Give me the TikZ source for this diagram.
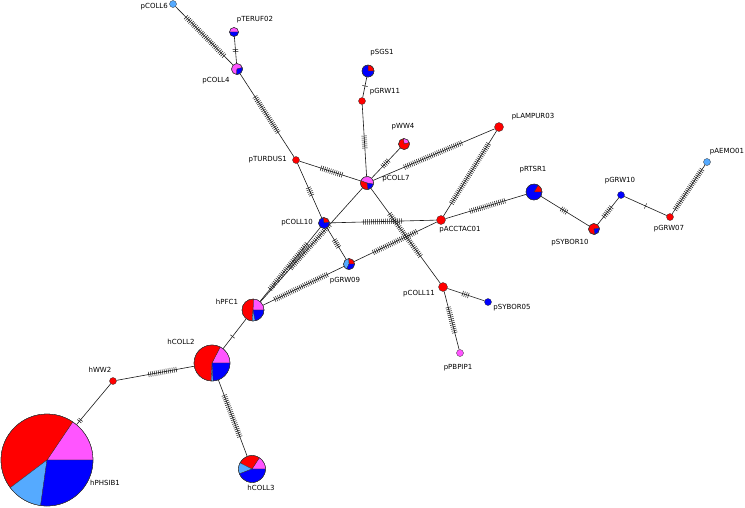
\documentclass[tikz,border=0pt]{standalone}
\usepackage{fontspec}
\setmainfont{DejaVu Sans}
\usetikzlibrary{calc}
\definecolor{hapred}{HTML}{FF0000}
\definecolor{hapblue}{HTML}{0000FF}
\definecolor{happink}{HTML}{FF55FF}
\definecolor{haplight}{HTML}{55AAFF}
\tikzset{
  hap/.style={circle, inner sep=0pt, minimum size={2*#1pt}, draw=black!80, line width=0.3pt},
  lab/.style={font=\fontsize{7}{8}\selectfont, inner sep=0pt},
  link/.style={line width=0.6pt, draw=black!90},
  tick/.style={line width=0.5pt, draw=black!90},
  wedge/.style={line width=0.3pt, draw=black!80},
}
% edge with n mutation ticks round its middle
\newcommand\hatched[3]{%
  \draw[link] (#1) -- (#2);
  \coordinate (m) at ($(#1)!.5!(#2)$);
  \foreach \k in {1,...,#3}{
    \coordinate (t) at ($(m)!{(\k-(#3+1)/2)*2pt}!(#2)$);
    \draw[tick] ($(t)!2.7pt!90:(#2)$) -- ($(t)!2.7pt!-90:(#2)$);
  }
}
% pie over a node: node, radius, start/end/colour list
\newcommand\pie[3]{%
  \foreach \a/\b/\col in {#3}
    \filldraw[wedge, fill=\col] (#1.center) -- ++(\a:#2) arc[start angle=\a, end angle=\b, radius=#2] -- cycle;
  \draw[wedge] (#1.center) circle[radius=#2];
}
\begin{document}
\begin{tikzpicture}[x=1pt, y=1pt]
  \useasboundingbox (0,0) rectangle (745,-507);
  % haplotypes
  \node[hap=3.5, fill=haplight] (pCOLL6) at (173,-4) {};
  \node[hap=4.5] (pTERUF02) at (234,-32) {};
  \node[hap=5.5] (pCOLL4) at (237,-69) {};
  \node[hap=3.5, fill=hapred] (pTURDUS1) at (296,-160) {};
  \node[hap=5.5] (pCOLL10) at (324,-223) {};
  \node[hap=6] (pSGS1) at (368,-71) {};
  \node[hap=3.5, fill=hapred] (pGRW11) at (362,-101) {};
  \node[hap=6.5] (pCOLL7) at (367,-183) {};
  \node[hap=5.5] (pWW4) at (404,-144) {};
  \node[hap=4.5, fill=hapred] (pLAMPUR03) at (499,-127) {};
  \node[hap=8] (pRTSR1) at (534,-192) {};
  \node[hap=4.5, fill=hapred] (pACCTAC01) at (441,-220) {};
  \node[hap=3.5, fill=hapblue] (pGRW10) at (621,-195) {};
  \node[hap=5.5] (pSYBOR10) at (594,-229) {};
  \node[hap=3.5, fill=hapred] (pGRW07) at (670,-217) {};
  \node[hap=3.5, fill=haplight] (pAEMO01) at (707,-162) {};
  \node[hap=5.5] (pGRW09) at (349,-264) {};
  \node[hap=11] (hPFC1) at (253,-310) {};
  \node[hap=18] (hCOLL2) at (212,-363) {};
  \node[hap=3.5, fill=hapred] (hWW2) at (113,-381) {};
  \node[hap=46] (hPHSIB1) at (47,-460) {};
  \node[hap=13.5] (hCOLL3) at (252,-469) {};
  \node[hap=4.5, fill=hapred] (pCOLL11) at (443,-287) {};
  \node[hap=3.5, fill=hapblue] (pSYBOR05) at (488,-302) {};
  \node[hap=3.5, fill=happink] (pPBPIP1) at (460,-353) {};
  % links
  \hatched{pCOLL6}{pCOLL4}{28}
  \hatched{pTERUF02}{pCOLL4}{2}
  \hatched{pCOLL4}{pTURDUS1}{22}
  \hatched{pTURDUS1}{pCOLL7}{12}
  \hatched{pTURDUS1}{pCOLL10}{5}
  \hatched{pSGS1}{pGRW11}{1}
  \hatched{pGRW11}{pCOLL7}{7}
  \hatched{pWW4}{pCOLL7}{5}
  \hatched{pCOLL7}{pLAMPUR03}{32}
  \hatched{pLAMPUR03}{pACCTAC01}{36}
  \hatched{pCOLL7}{pCOLL11}{27}
  \hatched{pCOLL10}{pACCTAC01}{20}
  \hatched{pCOLL10}{pGRW09}{5}
  \hatched{pGRW09}{pACCTAC01}{25}
  \hatched{hPFC1}{pGRW09}{30}
  \hatched{hPFC1}{pCOLL10}{30}
  \hatched{hPFC1}{pCOLL7}{30}
  \hatched{hPFC1}{hCOLL2}{1}
  \hatched{hWW2}{hCOLL2}{15}
  \hatched{hWW2}{hPHSIB1}{2}
  \hatched{hCOLL2}{hCOLL3}{23}
  \hatched{pACCTAC01}{pRTSR1}{19}
  \hatched{pRTSR1}{pSYBOR10}{4}
  \hatched{pSYBOR10}{pGRW10}{7}
  \hatched{pGRW10}{pGRW07}{1}
  \hatched{pGRW07}{pAEMO01}{25}
  \hatched{pCOLL11}{pSYBOR05}{4}
  \hatched{pCOLL11}{pPBPIP1}{14}
  % pies
  \pie{pTERUF02}{4.5}{0/180/happink, 180/360/hapblue}
  \pie{pCOLL4}{5.5}{15/265/happink, 265/375/hapblue}
  \pie{pCOLL10}{5.5}{10/100/hapred, 100/370/hapblue}
  \pie{pSGS1}{6}{0/90/hapred, 90/360/hapblue}
  \pie{pCOLL7}{6.5}{-10/160/happink, 160/280/hapred, 280/350/hapblue}
  \pie{pWW4}{5.5}{15/95/happink, 95/375/hapred}
  \pie{pRTSR1}{8}{0/60/hapred, 60/360/hapblue}
  \pie{pSYBOR10}{5.5}{10/280/hapred, 280/370/hapblue}
  \pie{pGRW09}{5.5}{0/95/hapred, 95/245/haplight, 245/360/hapblue}
  \pie{hPFC1}{11}{0/88/happink, 88/266/hapred, 266/282/haplight, 282/360/hapblue}
  \pie{hCOLL2}{18}{0/63/happink, 63/268/hapred, 268/274/haplight, 274/360/hapblue}
  \pie{hPHSIB1}{46}{0/56/happink, 56/217/hapred, 217/262/haplight, 262/360/hapblue}
  \pie{hCOLL3}{13.5}{0/57/happink, 57/153/hapred, 153/201/haplight, 201/360/hapblue}
  % names
  \node[lab, anchor=east] (pCOLL6-l) at (168,-7) {pCOLL6};
  \node[lab] (pTERUF02-l) at (255,-20) {pTERUF02};
  \node[lab] (pCOLL4-l) at (216,-81) {pCOLL4};
  \node[lab, anchor=east] (pTURDUS1-l) at (287,-160) {pTURDUS1};
  \node[lab, anchor=east] (pCOLL10-l) at (313,-223) {pCOLL10};
  \node[lab] (pSGS1-l) at (382,-53) {pSGS1};
  \node[lab] (pGRW11-l) at (385,-92) {pGRW11};
  \node[lab] (pCOLL7-l) at (396,-179) {pCOLL7};
  \node[lab] (pWW4-l) at (403,-127) {pWW4};
  \node[lab] (pLAMPUR03-l) at (533,-117) {pLAMPUR03};
  \node[lab] (pRTSR1-l) at (533,-170) {pRTSR1};
  \node[lab] (pACCTAC01-l) at (460,-230) {pACCTAC01};
  \node[lab] (pGRW10-l) at (620,-181) {pGRW10};
  \node[lab] (pSYBOR10-l) at (570,-243) {pSYBOR10};
  \node[lab] (pGRW07-l) at (669,-229) {pGRW07};
  \node[lab] (pAEMO01-l) at (727,-152) {pAEMO01};
  \node[lab] (pGRW09-l) at (345,-281) {pGRW09};
  \node[lab] (hPFC1-l) at (227,-302) {hPFC1};
  \node[lab] (hCOLL2-l) at (181,-342) {hCOLL2};
  \node[lab] (hWW2-l) at (100,-370) {hWW2};
  \node[lab] (hPHSIB1-l) at (105,-483) {hPHSIB1};
  \node[lab] (hCOLL3-l) at (261,-488) {hCOLL3};
  \node[lab] (pCOLL11-l) at (419,-294) {pCOLL11};
  \node[lab] (pSYBOR05-l) at (512,-308) {pSYBOR05};
  \node[lab] (pPBPIP1-l) at (458,-368) {pPBPIP1};
\end{tikzpicture}
\end{document}
